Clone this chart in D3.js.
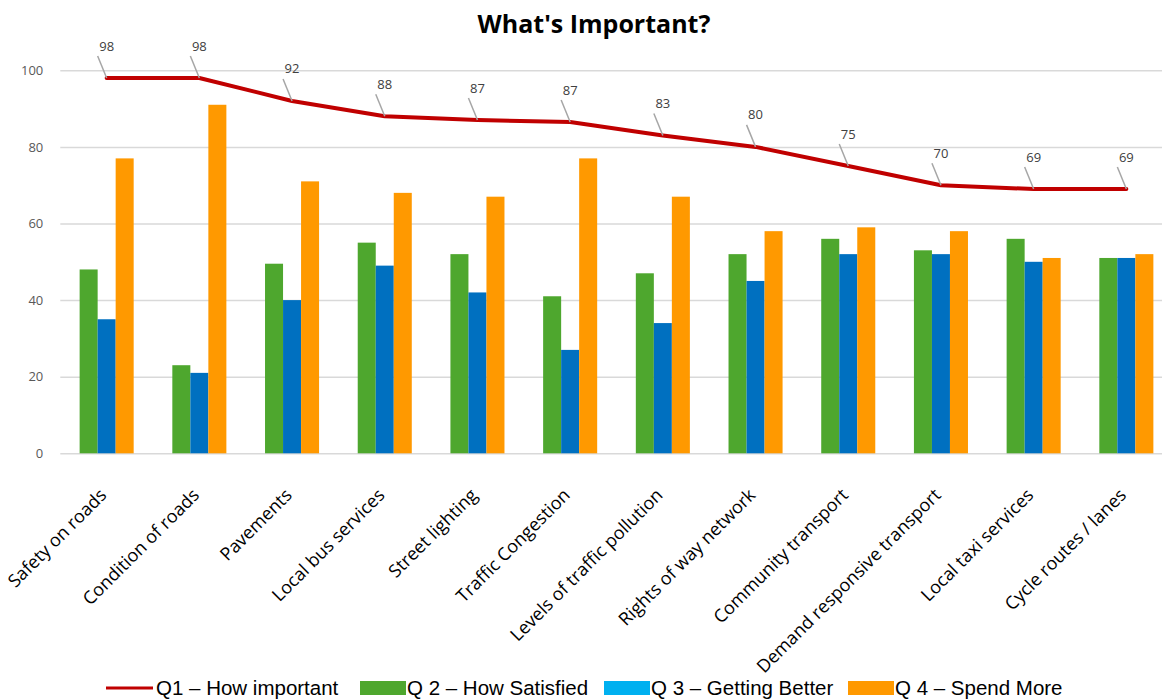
<!DOCTYPE html>
<html>
<head>
<meta charset="utf-8">
<script src="https://cdn.jsdelivr.net/npm/d3@7"></script>
<style>
  html, body { margin: 0; padding: 0; background: #fff; }
  svg { display: block; }
</style>
</head>
<body>
<svg id="chart" width="1162" height="700"></svg>
<script>
// data
const categories = ['Safety on roads', 'Condition of roads', 'Pavements', 'Local bus services',
                    'Street lighting', 'Traffic Congestion', 'Levels of traffic pollution',
                    'Rights of way network', 'Community transport', 'Demand responsive transport',
                    'Local taxi services', 'Cycle routes / lanes'];
const q1Important = [98, 98, 92, 88, 87, 86.5, 83, 80, 75, 70, 69, 69];
const q2Satisfied = [48, 23, 49.5, 55, 52, 41, 47, 52, 56, 53, 56, 51];
const q3Better = [35, 21, 40, 49, 42, 27, 34, 45, 52, 52, 50, 51];
const q4Spend = [77, 91, 71, 68, 67, 77, 67, 58, 59, 58, 51, 52];
const yTicks = [0, 20, 40, 60, 80, 100];

const seriesNames = ['Q1 – How important', 'Q 2 – How Satisfied', 'Q 3 – Getting Better', 'Q 4 – Spend More'];

const barColors = ['#4ea72e', '#0070c0', '#ff9900'];
const legendColors = ['#c00000', '#4ea72e', '#00b0f0', '#ff9900'];

const svg = d3.select('#chart');

const x = d3.scaleBand()
  .domain(categories)
  .range([60.3, 1172.7]);

const y = d3.scaleLinear()
  .domain([0, 100])
  .range([453.3, 70.3]);

const barSeries = [q2Satisfied, q3Better, q4Spend];
const half = x.bandwidth() * 0.2915;
const xs = d3.scaleBand()
  .domain(d3.range(barSeries.length))
  .range([-half, half]);

const cx = c => x(c) + x.bandwidth() / 2;

// title
svg.append('text')
  .attr('x', 594)
  .attr('y', 33)
  .attr('text-anchor', 'middle')
  .attr('font-family', 'Open Sans, sans-serif')
  .attr('font-weight', 700)
  .attr('font-size', 25)
  .attr('fill', '#000')
  .text("What's Important?");

// gridlines + y tick labels
const yAxis = d3.axisLeft(y)
  .tickValues(yTicks)
  .tickSize(-(1172.7 - 60.3))
  .tickPadding(17)
  .tickFormat(d3.format('d'));

svg.append('g')
  .attr('transform', 'translate(60.3,0)')
  .call(yAxis)
  .call(g => g.select('.domain').remove())
  .call(g => g.selectAll('.tick line').attr('stroke', '#d9d9d9').attr('stroke-width', 1.5))
  .call(g => g.selectAll('.tick text')
    .attr('font-family', 'Open Sans, sans-serif')
    .attr('font-size', 13)
    .attr('fill', '#595959'));

// bars
barSeries.forEach((vals, s) => {
  svg.append('g')
    .selectAll('rect')
    .data(vals)
    .enter()
    .append('rect')
      .attr('x', (d, i) => cx(categories[i]) + xs(s))
      .attr('width', xs.bandwidth())
      .attr('y', d => y(d))
      .attr('height', d => y(0) - y(d))
      .attr('fill', barColors[s]);
});

// Q1 line
const line = d3.line()
  .x((d, i) => cx(categories[i]))
  .y(d => y(d));

svg.append('path')
  .datum(q1Important)
  .attr('d', line)
  .attr('fill', 'none')
  .attr('stroke', '#c00000')
  .attr('stroke-width', 4)
  .attr('stroke-linejoin', 'round')
  .attr('stroke-linecap', 'round');

// data labels with leader lines
const labels = svg.append('g');
q1Important.forEach((d, i) => {
  const px = cx(categories[i]);
  const py = y(d);
  labels.append('line')
    .attr('x1', px - 9).attr('y1', py - 22)
    .attr('x2', px).attr('y2', py)
    .attr('stroke', '#a6a6a6')
    .attr('stroke-width', 1.5);
  labels.append('text')
    .attr('x', px)
    .attr('y', py - 32)
    .attr('dy', '0.35em')
    .attr('text-anchor', 'middle')
    .attr('font-family', 'Open Sans, sans-serif')
    .attr('font-size', 13)
    .attr('fill', '#404040')
    .text(d3.format('.0f')(d));
});

// category labels, rotated
const xAxis = svg.append('g');
xAxis.selectAll('text')
  .data(categories)
  .enter()
  .append('text')
    .attr('transform', d => `translate(${cx(d) + 1},${y(0) + 43}) rotate(-45)`)
    .attr('text-anchor', 'end')
    .attr('font-family', 'Open Sans, sans-serif')
    .attr('font-size', 18)
    .attr('fill', '#000')
    .text(d => d);

// legend
const legendX = [106, 360, 604, 848];
const legend = svg.append('g').attr('transform', 'translate(0,688)');
seriesNames.forEach((name, i) => {
  const g = legend.append('g').attr('transform', `translate(${legendX[i]},0)`);
  if (i === 0) {
    g.append('line')
      .attr('x1', 0).attr('x2', 47)
      .attr('stroke', legendColors[i])
      .attr('stroke-width', 3);
  } else {
    g.append('rect')
      .attr('x', 0).attr('y', -7)
      .attr('width', 46).attr('height', 14)
      .attr('fill', legendColors[i]);
  }
  g.append('text')
    .attr('x', i === 0 ? 50 : 47)
    .attr('dy', '0.35em')
    .attr('font-family', 'Liberation Sans, Arial, sans-serif')
    .attr('font-size', 20.5)
    .attr('fill', '#000')
    .text(name);
});
</script>
</body>
</html>
